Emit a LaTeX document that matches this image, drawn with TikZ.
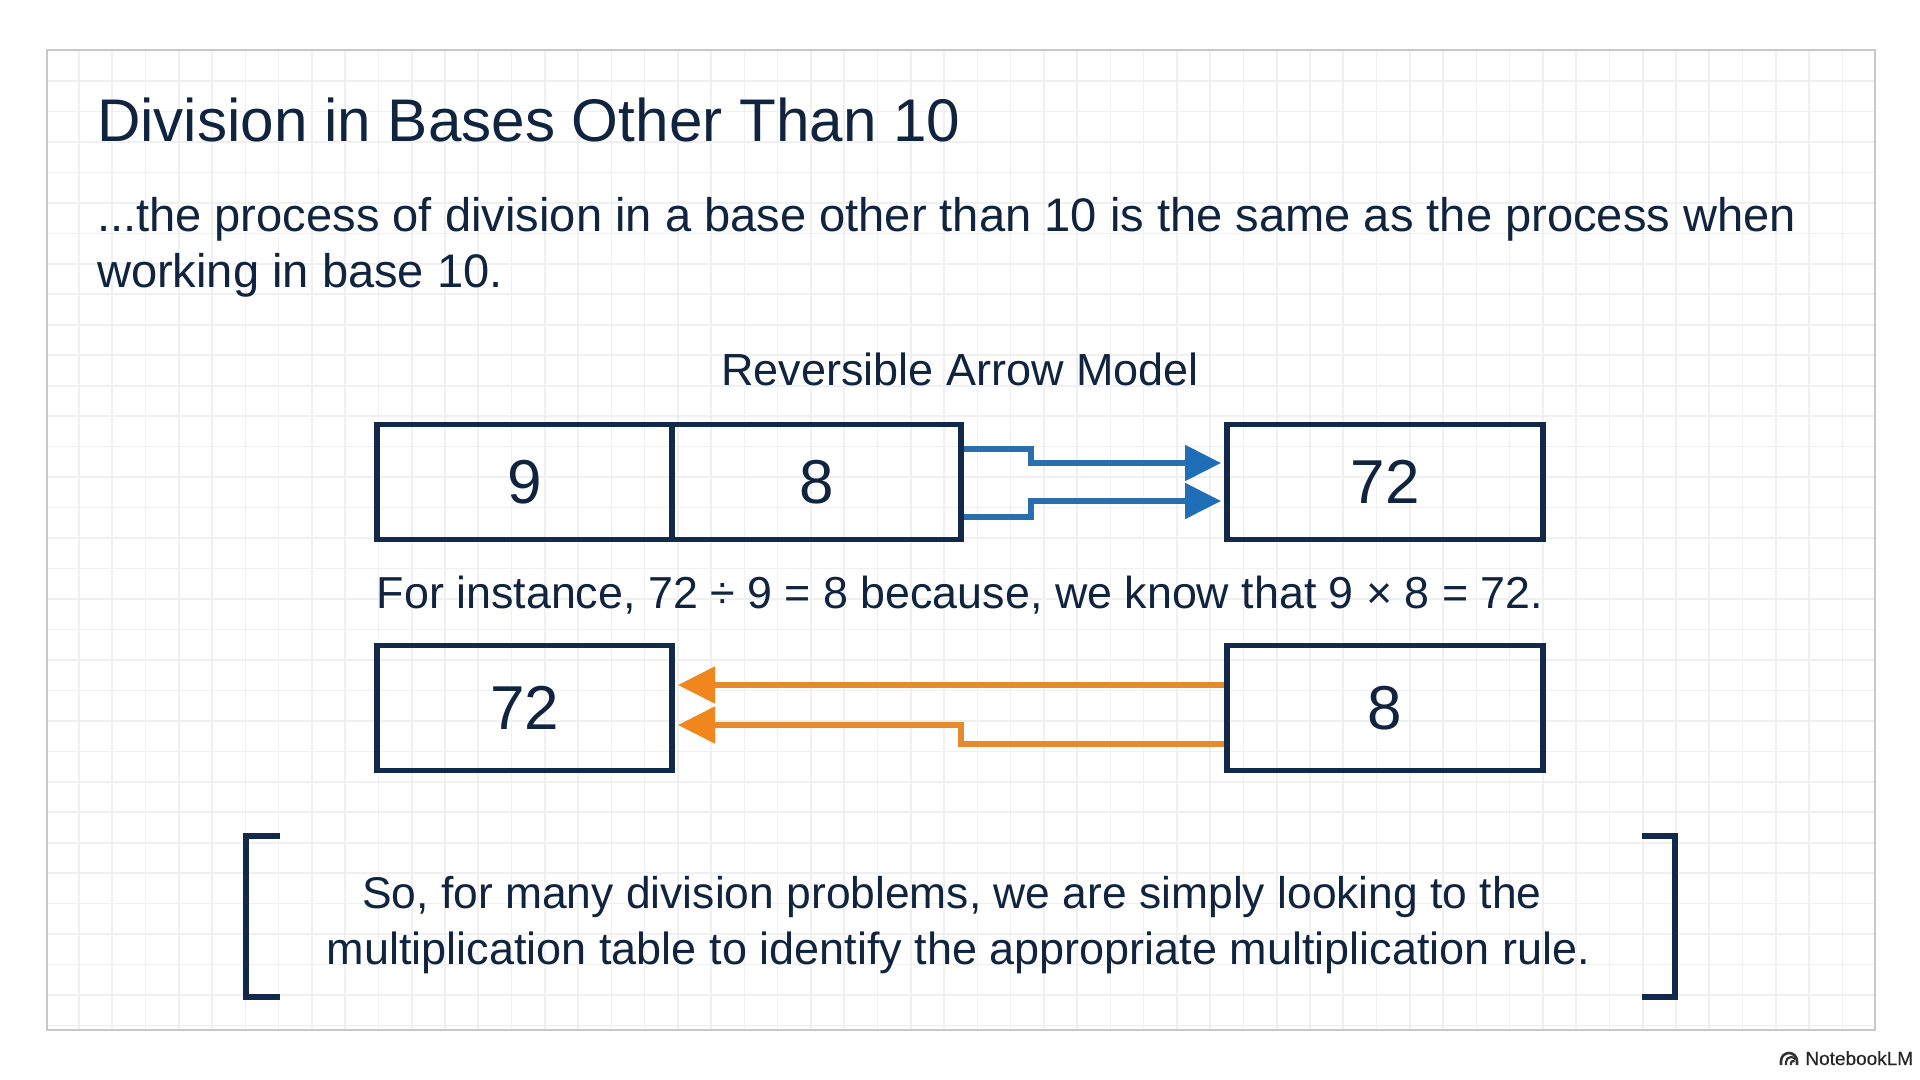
\documentclass[tikz,border=0pt]{standalone}
\usepackage{fontspec}
\setmainfont{Liberation Sans}
\usetikzlibrary{arrows.meta,calc}
\definecolor{ink}{HTML}{10243F}
\definecolor{boxline}{HTML}{12294A}
\definecolor{gridc}{HTML}{F0F0F0}
\definecolor{framec}{HTML}{C9C9C9}
\definecolor{bluel}{HTML}{2A6FAB}
\definecolor{blueh}{HTML}{1F6FB8}
\definecolor{orangel}{HTML}{E68A2E}
\definecolor{orangeh}{HTML}{F0861C}
\tikzset{
  numbox/.style={draw=boxline,line width=2.6pt,rectangle,inner sep=0pt,outer sep=0pt,text=ink,
    font=\fontsize{31}{36}\selectfont,text height=21.7pt,text depth=0pt},
  bodytxt/.style={text=ink,inner sep=0pt,outer sep=0pt,font=\fontsize{23.55}{28}\selectfont},
  txt/.style={text=ink,inner sep=0pt,outer sep=0pt,font=\fontsize{22.5}{27}\selectfont},
  bluearrow/.style={draw=bluel,line width=2.6pt,shorten <=1.3pt,shorten >=3pt,
    -{Triangle[length=18pt,width=17.5pt,color=blueh]}},
  orangearrow/.style={draw=orangel,line width=2.6pt,shorten <=1.3pt,shorten >=3pt,
    -{Triangle[length=18.5pt,width=18pt,color=orangeh]}},
  brk/.style={draw=boxline,line width=2.8pt}
}
\begin{document}
\begin{tikzpicture}[x=0.5pt,y=-0.5pt]
\useasboundingbox (0,0) rectangle (1920,1080);
\fill[white] (0,0) rectangle (1920,1080);
% grid
\foreach \k in {0,...,53}{\draw[gridc,line width=0.8pt] ({79+33.27*\k},50) -- ({79+33.27*\k},1030);}
\foreach \k in {0,...,31}{\draw[gridc,line width=0.8pt] (47,{81+30.47*\k}) -- (1875,{81+30.47*\k});}
\draw[framec,line width=1.1pt] (47,50) rectangle (1875,1030);
% texts
\node[bodytxt,anchor=base west,font=\fontsize{30.1}{34}\selectfont] (title) at (97,142) {Division in Bases Other Than 10};
\node[bodytxt,anchor=base west] (l1) at (97,232) {...the process of division in a base other than 10 is the same as the process when};
\node[bodytxt,anchor=base west] (l2) at (97,288) {working in base 10.};
\node[txt,anchor=base] (model) at (960,386) {Reversible Arrow Model};
\node[txt,anchor=base,font=\fontsize{22.4}{27}\selectfont] (inst) at (960,608) {For instance, 72 ÷ 9 = 8 because, we know that 9 × 8 = 72.};
\node[txt,anchor=base,font=\fontsize{22.2}{27}\selectfont] (c1) at (952,908) {So, for many division problems, we are simply looking to the};
\node[txt,anchor=base] (c2) at (958.5,964) {multiplication table to identify the appropriate multiplication rule.};
% boxes
\node[numbox,minimum width=147.5pt,minimum height=57.5pt] (r9) at (524.5,482) {9};
\node[numbox,minimum width=144.5pt,minimum height=57.5pt] (r8) at (816.5,482) {8};
\node[numbox,minimum width=158pt,minimum height=57.5pt] (r72) at (1385,482) {72};
\node[numbox,minimum width=147.5pt,minimum height=62.2pt] (q72) at (524.5,708) {72};
\node[numbox,minimum width=158pt,minimum height=62.2pt] (q8) at (1385,708) {8};
% blue connectors
\coordinate (bu) at (1031,449);
\coordinate (bd) at (1031,517);
\draw[bluearrow] (r8.east |- bu) -- (bu) -- ++(0,14) -- (r72.west |- 0,463);
\draw[bluearrow] (r8.east |- bd) -- (bd) -- ++(0,-16) -- (r72.west |- 0,501);
% orange connectors
\coordinate (om) at (961,744);
\draw[orangearrow] (q8.west |- 0,685) -- (q72.east |- 0,685);
\draw[orangearrow] (q8.west |- om) -- (om) -- (961,725) -- (q72.east |- 0,725);
% brackets
\coordinate (bl1) at (280,836);
\coordinate (bl2) at (246,836);
\coordinate (bl3) at (246,997);
\coordinate (bl4) at (280,997);
\draw[brk] (bl1) -- (bl2) -- (bl3) -- (bl4);
\coordinate (br1) at (1642,836);
\coordinate (br2) at (1675,836);
\coordinate (br3) at (1675,997);
\coordinate (br4) at (1642,997);
\draw[brk] (br1) -- (br2) -- (br3) -- (br4);
% watermark
\node[anchor=base west,inner sep=0pt,text=black!85,font=\fontsize{9.5}{11}\selectfont\addfontfeature{FakeBold=0.4}] (nlm) at (1805,1065) {NotebookLM};
\draw[black!80,line width=1.3pt] (1781,1065) -- (1781,1061) arc[start angle=180,end angle=360,radius=8] -- (1797,1065);
\draw[black!80,line width=1.1pt] (1786,1065) -- (1786,1062) arc[start angle=180,end angle=330,radius=5];
\draw[black!80,line width=1.1pt] (1791,1065) -- (1791,1063) arc[start angle=180,end angle=320,radius=2];
\end{tikzpicture}
\end{document}
